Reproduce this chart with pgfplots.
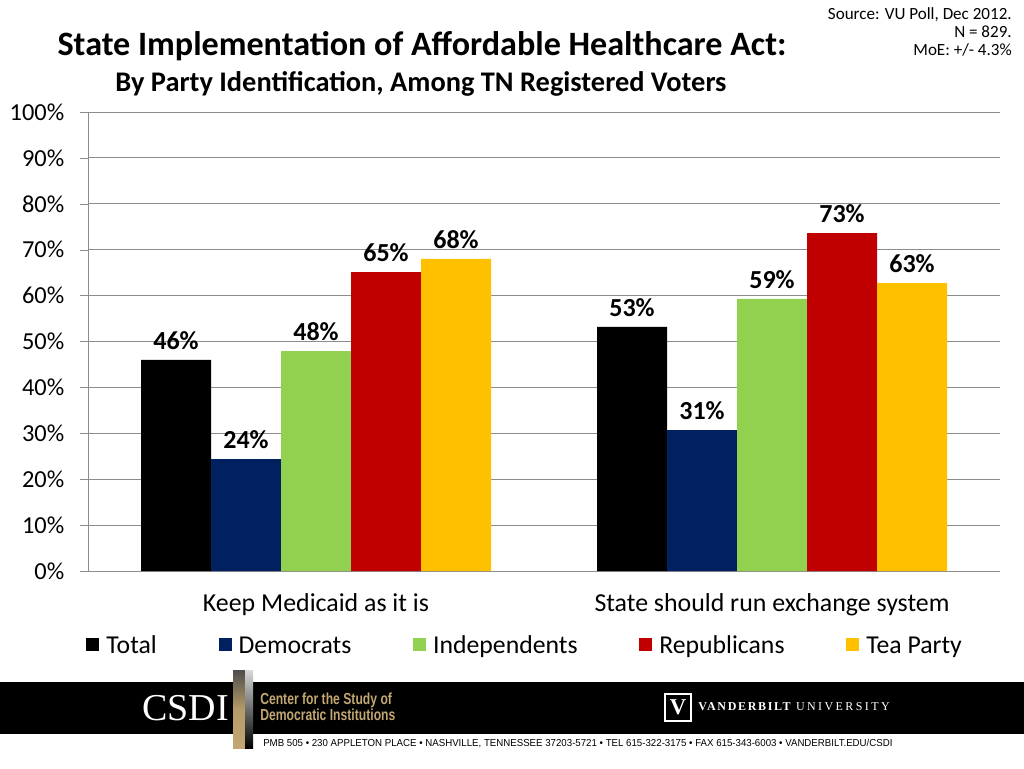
\documentclass[border=0pt]{standalone}
\usepackage{pgfplots}
\pgfplotsset{compat=1.18}
\usepackage{graphicx}
\usepackage{fontspec}
\setmainfont{Carlito}
\newfontfamily\serifft{Liberation Serif}
\newfontfamily\vuboldft[LetterSpace=14]{Liberation Serif}
\newfontfamily\vuft[LetterSpace=20]{Liberation Serif}
\newfontfamily\condft[FakeStretch=0.76]{Liberation Sans}
\definecolor{cNavy}{HTML}{002060}
\definecolor{cGreen}{HTML}{92D050}
\definecolor{cRed}{HTML}{C00000}
\definecolor{cGold}{HTML}{FFC000}
\definecolor{cGrid}{HTML}{8C8C8C}
\definecolor{cTan}{HTML}{C2A772}
\definecolor{cTanDark}{HTML}{B59B66}
\begin{document}
\begin{tikzpicture}[x=0.75pt,y=0.75pt]
\path[use as bounding box] (0,0) rectangle (1024,768);
\begin{axis}[
  at={(66pt,147.75pt)}, anchor=south west,
  scale only axis, width=684pt, height=344.25pt,
  xmin=-0.5, xmax=1.5, ymin=0, ymax=100,
  ybar=0pt, bar width=52.5pt,
  legend image code/.code={\fill[#1] (0pt,-4pt) rectangle (9.75pt,5.75pt); \path (15pt,0pt);},
  axis x line*=bottom, axis y line*=left,
  axis line style={draw=cGrid, -},
  ymajorgrids, grid style={cGrid, line width=0.6pt},
  ytick={0,10,...,100},
  yticklabel={\pgfmathprintnumber{\tick}\%},
  /pgf/number format/assume math mode=true,
  ticklabel style={font=\fontsize{18.3}{18.3}\selectfont},
  tick align=outside,
  ytick style={draw=cGrid, /pgfplots/major tick length=6pt},
  yticklabel style={xshift=-10pt},
  xtick={0,1},
  xticklabels={Keep Medicaid as it is, State should run exchange system},
  xtick style={draw=none},
  xticklabel style={yshift=-9pt, font=\fontsize{19.4}{19.4}\selectfont},
  extra x ticks={-0.5,0.5,1.5}, extra x tick labels={},
  extra x tick style={major tick length=4.5pt, tick style={draw=cGrid}, grid=none},
  nodes near coords, point meta=explicit symbolic,
  nodes near coords style={font=\bfseries\fontsize{19.5}{19.5}\selectfont, anchor=south, yshift=4pt, text=black},
  legend columns=5,
  legend style={at={(-0.002,-0.163)}, anchor=west, draw=none, fill=none,
    font=\fontsize{19.3}{19.3}\selectfont, inner xsep=0pt,
    nodes={inner xsep=0pt},
    /tikz/every even column/.append style={column sep=46.3pt}},
]
\addplot[fill=black, draw=none] coordinates {(0,46.0) [46\%] (1,53.2) [53\%]};
\addplot[fill=cNavy, draw=none] coordinates {(0,24.4) [24\%] (1,30.7) [31\%]};
\addplot[fill=cGreen, draw=none] coordinates {(0,47.9) [48\%] (1,59.3) [59\%]};
\addplot[fill=cRed, draw=none] coordinates {(0,65.1) [65\%] (1,73.6) [73\%]};
\addplot[fill=cGold, draw=none] coordinates {(0,68.0) [68\%] (1,62.7) [63\%]};
\legend{Total, Democrats, Independents, Republicans, Tea Party}
\end{axis}
% titles
\node[font=\bfseries\fontsize{25.6}{25.6}\selectfont] at (422,{768-46}) {State Implementation of Affordable Healthcare Act:};
\node[font=\bfseries\fontsize{21.3}{21.3}\selectfont] at (421,{768-84}) {By Party Identification, Among TN Registered Voters};
\node[anchor=north east, align=right, inner sep=0pt, font=\fontsize{12.8}{13.5}\selectfont] at (1012,{768-7}) {Source: VU Poll, Dec 2012.\\ N = 829.\\ MoE: +/- 4.3\%};
% footer
\fill[black] (0,{768-734}) rectangle (1024,{768-682});
\shade[top color=gray!60!black, bottom color=cTan, middle color=cTanDark] (233,{768-748}) rectangle (245,{768-670});
\shade[top color=gray!30, bottom color=black] (245,{768-748}) rectangle (253,{768-670});
\node[text=white, anchor=east, inner sep=0pt, font=\serifft\fontsize{28.5}{28.5}\selectfont] at (229,{768-708}) {CSDI};
\node[text=cTan, anchor=west, inner sep=0pt, align=left, font=\condft\bfseries\fontsize{12}{10.5}\selectfont] at (260,{768-707}) {Center for the Study of\\Democratic Institutions};
\draw[white, fill=black, line width=0.8pt] (665,{768-721}) rectangle (691,{768-694});
\node[text=white, inner sep=0pt, font=\serifft\bfseries\fontsize{17}{17}\selectfont] at (678,{768-707}) {V};
\node[text=white, anchor=west, inner sep=0pt] at (698,{768-707}) {\vuboldft\bfseries\fontsize{9}{9}\selectfont VANDERBILT\hspace{4pt}\vuft\mdseries UNIVERSITY};
\node[anchor=west, inner sep=0pt] at (263,{768-743}) {\resizebox{472pt}{5.5pt}{\condft PMB 505 • 230 APPLETON PLACE • NASHVILLE, TENNESSEE 37203-5721 • TEL 615-322-3175 • FAX 615-343-6003 • VANDERBILT.EDU/CSDI}};
\end{tikzpicture}
\end{document}
